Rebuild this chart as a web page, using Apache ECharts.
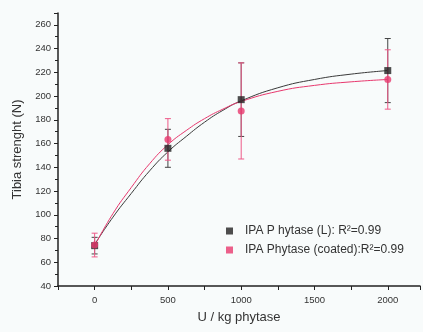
<!DOCTYPE html>
<html><head><meta charset="utf-8">
<script src="https://cdn.jsdelivr.net/npm/echarts@6/dist/echarts.min.js"></script>
<style>html,body{margin:0;padding:0;background:#f8fbfb}#c{width:423px;height:332px}</style>
</head><body><div id="c"></div>
<script>
const doses = [0, 500, 1000, 2000];
const liquidMean = [74, 156, 197, 221.5];
const liquidErr = [7, 16, 31, 27];
const coatedMean = [74.5, 163.5, 187.5, 214];
const coatedErr = [10, 17.5, 40.5, 25];
const fitX = [0, 125, 250, 375, 500, 625, 750, 875, 1000, 1250, 1500, 1750, 2000];
const liquidFit = [75, 98, 118, 137, 153, 166, 178, 188, 196, 207, 214, 218.5, 221.5];
const coatedFit = [74, 101, 123, 143, 159, 171, 181, 189, 195.5, 204, 209, 212, 214];
const legendNames = ['IPA P hytase (L): R\u00b2=0.99', 'IPA Phytase (coated):R\u00b2=0.99'];
const xTicks = [0, 500, 1000, 1500, 2000];

const BLACK = '#222222', RED = '#e8386e';
function pairs(xs, ys){ return xs.map((x,i)=>[x, ys[i]]); }
function errData(m, e){ return doses.map((x,i)=>[x, m[i]-e[i], m[i]+e[i]]); }
function errSeries(data, color){
  return {type:'custom', silent:true, z:3, data:data,
    renderItem:function(params, api){
      const lo = api.coord([api.value(0), api.value(1)]);
      const hi = api.coord([api.value(0), api.value(2)]);
      const w = 3;
      const st = {stroke:color, lineWidth:1};
      return {type:'group', children:[
        {type:'line', shape:{x1:lo[0],y1:lo[1],x2:hi[0],y2:hi[1]}, style:st},
        {type:'line', shape:{x1:lo[0]-w,y1:lo[1],x2:lo[0]+w,y2:lo[1]}, style:st},
        {type:'line', shape:{x1:hi[0]-w,y1:hi[1],x2:hi[0]+w,y2:hi[1]}, style:st}
      ]};
    }};
}
const chart = echarts.init(document.getElementById('c'));
chart.setOption({
  backgroundColor:'#f8fbfb',
  animation:false,
  grid:{left:58, right:0, top:13, bottom:46},
  legend:{orient:'vertical', left:221, top:220, itemWidth:7, itemHeight:7, itemGap:7,
    textStyle:{fontFamily:'Liberation Sans', fontSize:12, color:'#333', padding:[0,0,0,7]},
    data:[{name:legendNames[0], icon:'rect'},{name:legendNames[1], icon:'rect'}]},
  xAxis:{type:'value', min:-250, max:2220, interval:250,
    name:'U / kg phytase', nameLocation:'middle', nameGap:25,
    nameTextStyle:{fontFamily:'Liberation Sans', fontSize:13, color:'#333'},
    axisLine:{show:true, onZero:false, lineStyle:{color:BLACK, width:1.5}},
    axisTick:{show:true, length:4, lineStyle:{color:BLACK}},
    splitLine:{show:false},
    axisLabel:{margin:9, fontFamily:'Liberation Sans', fontSize:9.5, color:'#333',
      formatter:v=> xTicks.indexOf(v) >= 0 ? String(v) : ''}},
  yAxis:{type:'value', min:40, max:270, interval:20,
    name:'Tibia strenght (N)', nameLocation:'middle', nameGap:34,
    nameTextStyle:{fontFamily:'Liberation Sans', fontSize:13, color:'#333'},
    axisLine:{show:true, onZero:false, lineStyle:{color:BLACK, width:1.5}},
    axisTick:{show:true, length:4, lineStyle:{color:BLACK}},
    minorTick:{show:true, splitNumber:2, length:3, lineStyle:{color:BLACK}},
    splitLine:{show:false},
    axisLabel:{margin:7, fontFamily:'Liberation Sans', fontSize:9.5, color:'#333', showMaxLabel:false}},
  series:[
    {type:'line', data:pairs(fitX, liquidFit), smooth:true, symbol:'none', silent:true,
      lineStyle:{color:'#3a3a3a', width:1}, z:2},
    {type:'line', data:pairs(fitX, coatedFit), smooth:true, symbol:'none', silent:true,
      lineStyle:{color:RED, width:1}, z:2},
    errSeries(errData(liquidMean, liquidErr), '#444'),
    errSeries(errData(coatedMean, coatedErr), '#ee5a88'),
    {name:legendNames[0], type:'scatter', data:pairs(doses, liquidMean), symbol:'rect', symbolSize:7,
      itemStyle:{color:BLACK}, z:4},
    {name:legendNames[1], type:'scatter', data:pairs(doses, coatedMean), symbol:'circle', symbolSize:7,
      itemStyle:{color:RED}, z:5}
  ]
});
</script></body></html>
